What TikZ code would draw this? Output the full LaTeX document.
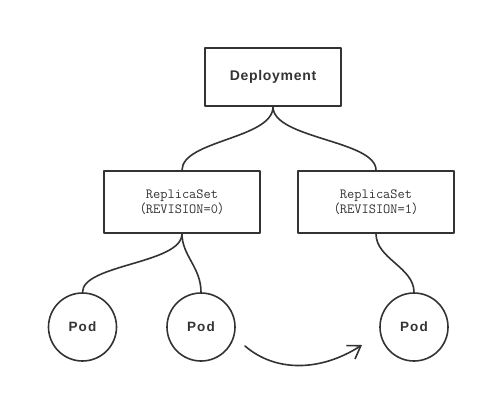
\documentclass[tikz,border=0pt]{standalone}
\usepackage{fontspec}
\setmainfont{Liberation Sans}
\newfontfamily\cjk{Noto Sans CJK SC}
\usepackage{tikz}
\usetikzlibrary{arrows.meta}
\definecolor{ink}{HTML}{333333}
\newcommand{\fwl}{{\cjk\fontsize{12.5}{15}\selectfont （}}
\newcommand{\fwr}{{\cjk\fontsize{12.5}{15}\selectfont ）}}
\tikzset{
  box/.style={draw=ink,line width=1.6pt,inner sep=0pt,text=ink},
  depbox/.style={box,minimum width=136pt,minimum height=58pt,font=\fontsize{14}{16}\selectfont\bfseries\addfontfeature{LetterSpace=5}},
  rsbox/.style={box,minimum width=156pt,minimum height=62pt,align=center,font=\fontsize{14}{15}\selectfont\ttfamily},
  pod/.style={box,circle,minimum size=68pt,font=\fontsize{13.5}{15}\selectfont\bfseries\addfontfeature{LetterSpace=8}},
  link/.style={draw=ink,line width=1.6pt}
}

\begin{document}
\begin{tikzpicture}[line cap=round,line join=round,x=1pt,y=-1pt]
\useasboundingbox (0,0) rectangle (487,405);
\node[depbox] (dep) at (273,77) {Deployment};
\node[rsbox] (rs0) at (182,202) {ReplicaSet\\\fwl REVISION=0\fwr};
\node[rsbox] (rs1) at (376,202) {ReplicaSet\\\fwl REVISION=1\fwr};
\node[pod] (pod1) at (82.5,327) {Pod};
\node[pod] (pod2) at (201,327) {Pod};
\node[pod] (pod3) at (414,327) {Pod};
% tree links
\draw[link] (dep.south) .. controls +(0,32) and +(0,-30) .. (rs0.north);
\draw[link] (dep.south) .. controls +(0,32) and +(0,-30) .. (rs1.north);
\draw[link] (rs0.south) .. controls +(0,30) and +(0,-28) .. (pod1.north);
\draw[link] (rs0.south) .. controls +(0,22) and +(0,-25) .. (pod2.north);
\draw[link] (rs1.south) .. controls +(0,25) and +(0,-25) .. (pod3.north);
% rollout arrow
\coordinate (mvs) at (245,346);
\coordinate (mve) at (362,345);
\draw[link,-{Straight Barb[length=12pt,width=16pt,line width=1.6pt]}] (mvs) .. controls (275,372) and (320,372) .. (mve);
\end{tikzpicture}
\end{document}
